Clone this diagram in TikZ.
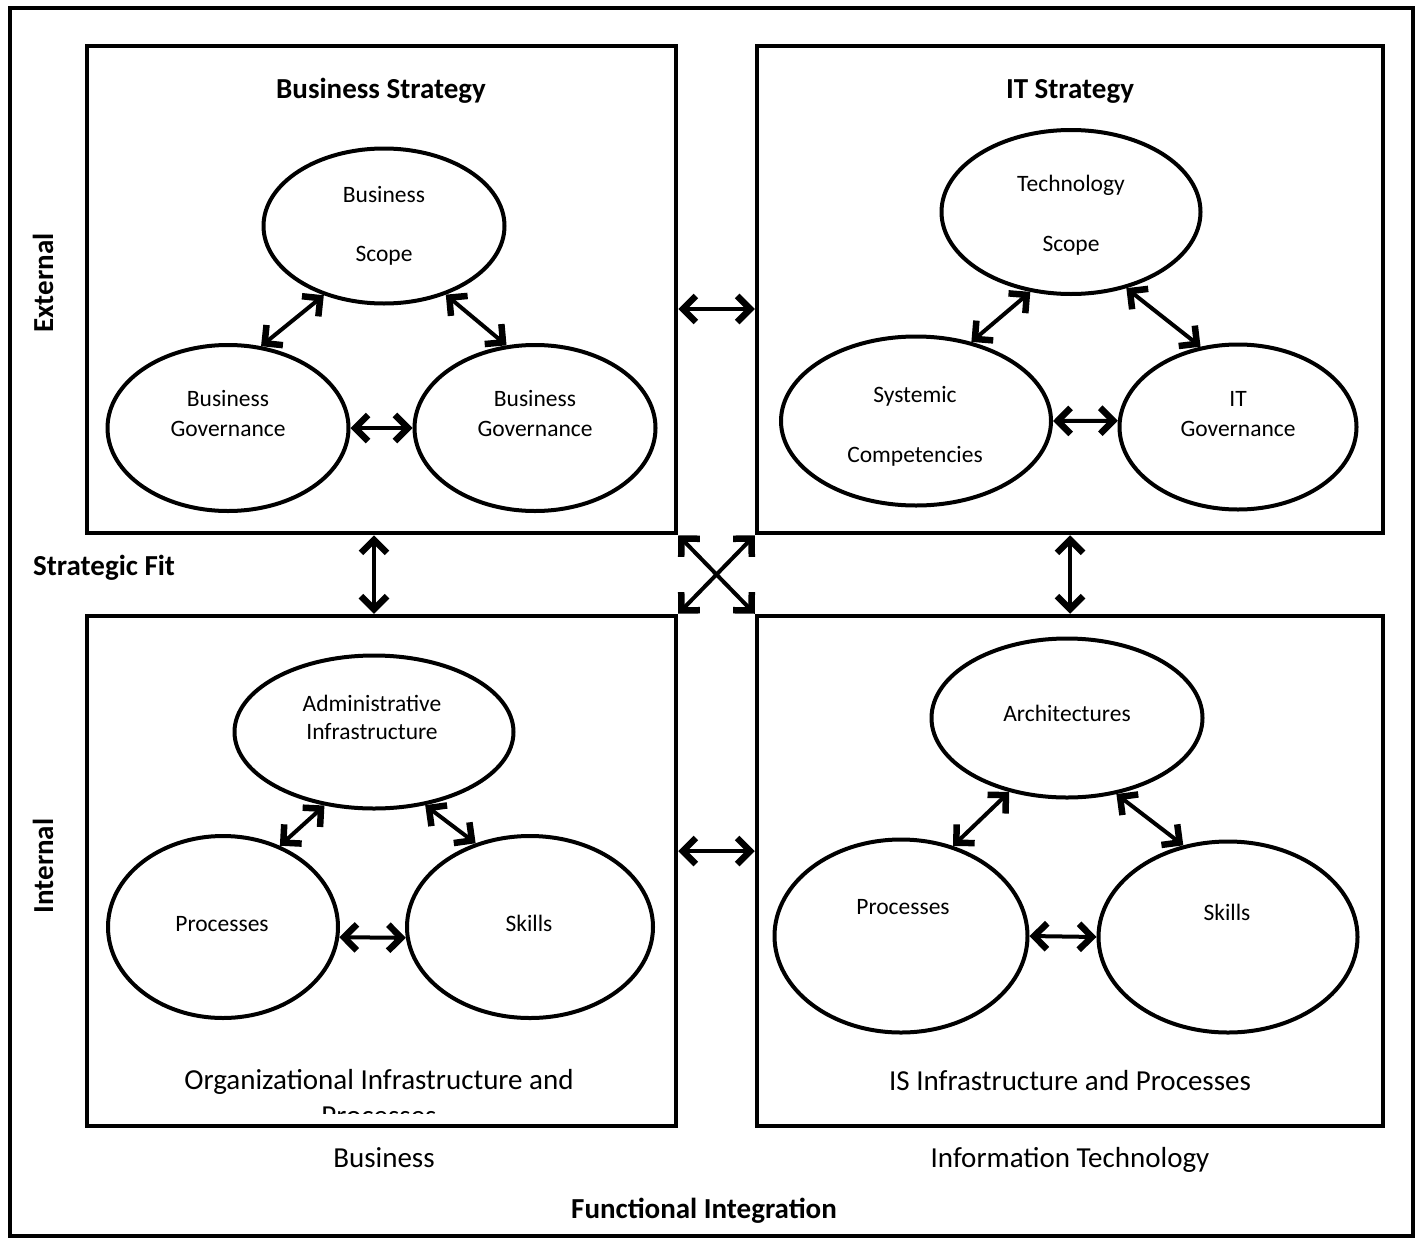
\documentclass[tikz,border=0pt]{standalone}
\usepackage{fontspec}
\setmainfont{Carlito}
\usetikzlibrary{arrows.meta,shapes.geometric}

\begin{document}
\begin{tikzpicture}[x=1pt,y=-1pt,
  frame/.style={draw, line width=4pt},
  box/.style={draw, rectangle, line width=4.5pt, inner sep=0pt},
  oval/.style={draw, ellipse, line width=4pt, inner sep=0pt},
  dbl/.style={line width=4pt, {Straight Barb[length=13pt,width=26pt,line width=6.5pt]}-{Straight Barb[length=13pt,width=26pt,line width=6.5pt]}},
  txt/.style={font=\fontsize{23.5}{28}\selectfont, anchor=base, inner sep=0pt},
  big/.style={font=\fontsize{29}{35}\selectfont, anchor=base, inner sep=0pt},
  bigb/.style={font=\fontsize{29}{35}\selectfont\bfseries, anchor=base, inner sep=0pt}
]
\useasboundingbox (0,0) rectangle (1421,1239);
\fill[white] (0,0) rectangle (1421,1239);

% outer frame
\draw[frame] (10,8) rectangle (1413,1236);

% quadrants
\node[box, minimum width=589pt, minimum height=487pt] (tl) at (381.5,289.5) {};
\node[box, minimum width=626pt, minimum height=487pt] (tr) at (1070,289.5) {};
\node[box, minimum width=589pt, minimum height=510pt] (bl) at (381.5,871) {};
\node[box, minimum width=626pt, minimum height=510pt] (br) at (1070,871) {};

% headings and axis labels
\node[bigb] (hbs) at (381,98) {Business Strategy};
\node[bigb] (hits) at (1070,98) {IT Strategy};
\node[font=\fontsize{29}{35}\selectfont\bfseries, rotate=90, inner sep=0pt] (ext) at (43,283) {External};
\node[font=\fontsize{29}{35}\selectfont\bfseries, rotate=90, inner sep=0pt] (int) at (43,866) {Internal};
\node[bigb, anchor=base west] (sfit) at (33,575) {Strategic Fit};
\begin{scope}
  \clip (90,620) rectangle (673,1113);
  \node[big] (oip1) at (379,1089) {Organizational Infrastructure and};
  \node[big] (oip2) at (379,1125) {Processes};
\end{scope}
\node[big] (isip) at (1070,1090) {IS Infrastructure and Processes};
\node[big] (lbus) at (384,1167) {Business};
\node[big] (lit) at (1070,1167) {Information Technology};
\node[bigb] (fint) at (704,1218) {Functional Integration};

% business strategy
\node[oval, minimum width=241pt, minimum height=155pt] (bs) at (384,226) {};
\node[oval, minimum width=241pt, minimum height=166pt] (blg) at (228,428) {};
\node[oval, minimum width=241pt, minimum height=166pt] (brg) at (535,428) {};
\node[txt] at (384,202) {Business};
\node[txt] at (384,261) {Scope};
\node[txt] at (228,406) {Business};
\node[txt] at (228,436) {Governance};
\node[txt] at (535,406) {Business};
\node[txt] at (535,436) {Governance};
\draw[dbl] (bs.229) -- (blg.68);
\draw[dbl] (bs.312) -- (brg.109);
\draw[dbl] (blg.east) -- (brg.west);

% IT strategy
\node[oval, minimum width=259pt, minimum height=164pt] (ts) at (1071,212) {};
\node[oval, minimum width=270pt, minimum height=169pt] (sc) at (916,421) {};
\node[oval, minimum width=237pt, minimum height=165pt] (itg) at (1238,427) {};
\node[txt] at (1071,191) {Technology};
\node[txt] at (1071,251) {Scope};
\node[txt] at (915,402) {Systemic};
\node[txt] at (915,462) {Competencies};
\node[txt] at (1238,406) {IT};
\node[txt] at (1238,436) {Governance};
\draw[dbl] (ts.243) -- (sc.55);
\draw[dbl] (ts.306) -- (itg.115);
\draw[dbl] (sc.east) -- (itg.177);

% organizational infrastructure
\node[oval, minimum width=279pt, minimum height=153pt] (ai) at (374,732) {};
\node[oval, minimum width=230pt, minimum height=182pt] (pr1) at (223,927) {};
\node[oval, minimum width=246pt, minimum height=182pt] (sk1) at (530,927) {};
\node[txt] at (372,711) {Administrative};
\node[txt] at (372,739) {Infrastructure};
\node[txt] at (222,931) {Processes};
\node[txt] at (529,931) {Skills};
\draw[dbl] (ai.236) -- (pr1.55);
\draw[dbl] (ai.305) -- (sk1.123);
\draw[dbl] (pr1.355) -- (sk1.185);

% IS infrastructure
\node[oval, minimum width=271pt, minimum height=159pt] (ar) at (1067,718) {};
\node[oval, minimum width=253pt, minimum height=193pt] (pr2) at (901,936) {};
\node[oval, minimum width=259pt, minimum height=191pt] (sk2) at (1228,937) {};
\node[txt] at (1067,721) {Architectures};
\node[txt] at (903,914) {Processes};
\node[txt] at (1227,920) {Skills};
\draw[dbl] (ar.232) -- (pr2.60);
\draw[dbl] (ar.303) -- (sk2.116);
\draw[dbl] (pr2.east) -- (sk2.west);

% links between quadrants
\draw[dbl] ([yshift=-19.5pt]tl.east) -- ([yshift=-19.5pt]tr.west);
\draw[dbl] ([yshift=20pt]bl.east) -- ([yshift=20pt]br.west);
\draw[dbl] ([xshift=-7.5pt]tl.south) -- ([xshift=-7.5pt]bl.north);
\draw[dbl] (tr.south) -- (br.north);
\draw[dbl] (tl.south east) -- (br.north west);
\draw[dbl] (tr.south west) -- (bl.north east);
\end{tikzpicture}
\end{document}
